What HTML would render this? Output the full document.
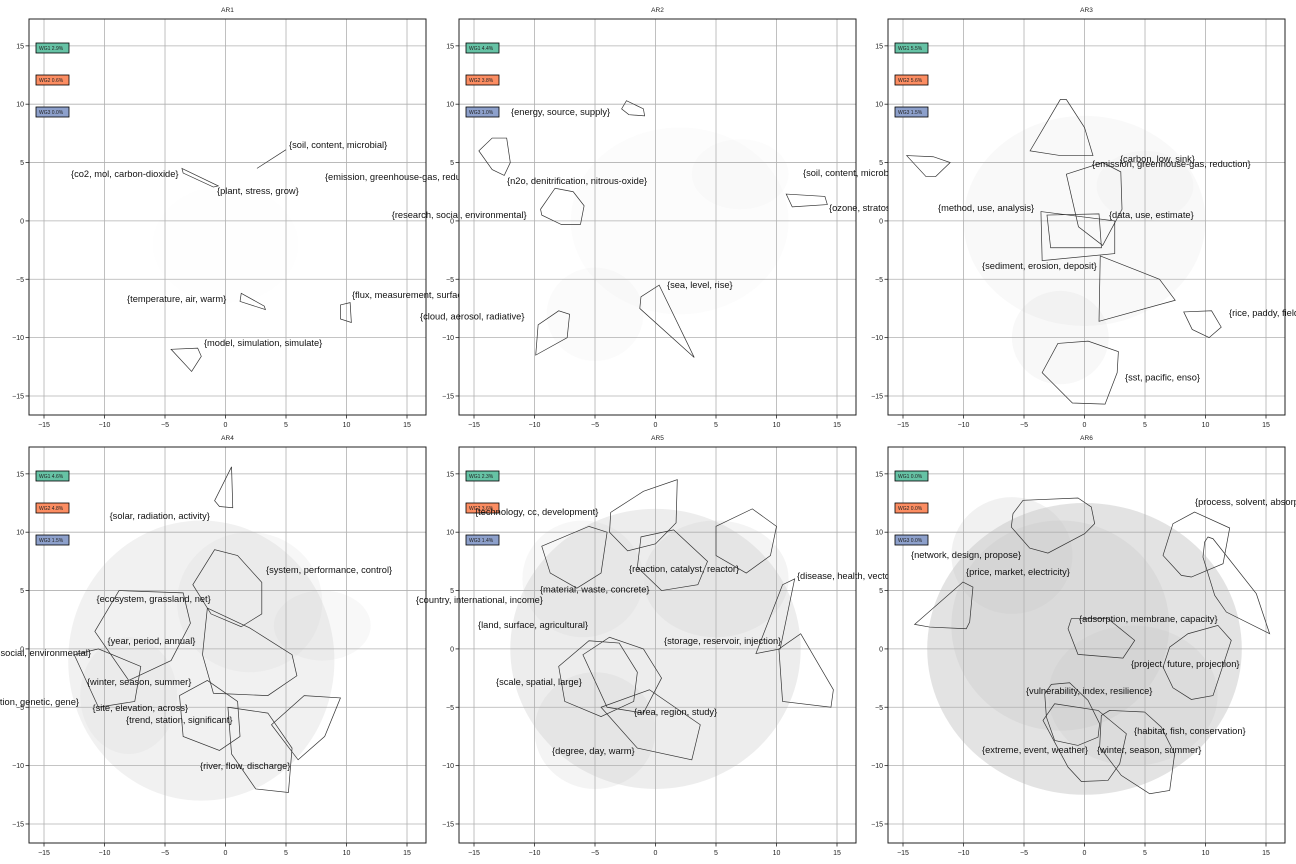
<!DOCTYPE html>
<html><head><meta charset="utf-8"><style>
html,body{margin:0;padding:0;background:#fff}
svg{display:block;font-family:"Liberation Sans","DejaVu Sans",sans-serif}
</style></head><body>
<svg id="c" width="1296" height="864" viewBox="0 0 1296 864" xmlns="http://www.w3.org/2000/svg"></svg>
<script>
const panelTitles=["AR1","AR2","AR3","AR4","AR5","AR6"];
const wg1Share=["2.9%","4.4%","5.5%","4.6%","2.3%","0.0%"];
const wg2Share=["0.6%","3.8%","5.6%","4.8%","3.6%","0.0%"];
const wg3Share=["0.0%","1.0%","1.5%","1.5%","1.4%","0.0%"];
const xTicks=[-15,-10,-5,0,5,10,15];
const yTicks=[-15,-10,-5,0,5,10,15];
// point-cloud density blobs per panel: [cx, cy, rx, ry, opacity]
const clouds=[
 [[0,-2,6,5,0.02]],
 [[2,0,9,8,0.06],[-5,-8,4,4,0.08],[7,4,4,3,0.06]],
 [[0,0,10,9,0.1],[-2,-10,4,4,0.12],[5,3,4,3,0.08]],
 [[-2,-1,11,12,0.25],[-8,-4,4,5,0.15],[2,4,6,6,0.15],[8,2,4,3,0.12]],
 [[0,0,12,12,0.33],[-5,-7,5,5,0.2],[5,6,6,5,0.2],[-6,6,5,5,0.15]],
 [[0,0,13,12.5,0.5],[-2,2,9,9,0.3],[4,-4,7,6,0.25],[-6,8,5,5,0.25]]
];
// topic labels per panel: [text, x, y, anchor]
const labels=[
 [["{soil, content, microbial}",5.25,6.5],["{co2, mol, carbon-dioxide}",-12.77,4.0],["{emission, greenhouse-gas, reduction}",8.22,3.76],["{plant, stress, grow}",-0.7,2.56],["{temperature, air, warm}",-8.14,-6.7],["{flux, measurement, surface}",10.45,-6.35],["{model, simulation, simulate}",-1.78,-10.46]],
 [["{energy, source, supply}",-11.94,9.33],["{n2o, denitrification, nitrous-oxide}",-12.27,3.42],["{research, social, environmental}",-21.8,0.5],["{soil, content, microbial}",12.19,4.1],["{ozone, stratospheric, layer}",14.34,1.1],["{sea, level, rise}",0.95,-5.5],["{cloud, aerosol, radiative}",-19.46,-8.2]],
 [["{carbon, low, sink}",2.93,5.3],["{emission, greenhouse-gas, reduction}",0.62,4.86],["{method, use, analysis}",-12.11,1.1],["{data, use, estimate}",2.02,0.5],["{sediment, erosion, deposit}",-8.47,-3.87],["{rice, paddy, field}",11.94,-7.9],["{sst, pacific, enso}",3.35,-13.4]],
 [["{solar, radiation, activity}",-9.58,11.39],["{system, performance, control}",3.35,6.76],["{ecosystem, grassland, net}",-10.66,4.28],["{year, period, annual}",-9.75,0.68],["{research, social, environmental}",-11.12,-0.35,"end"],["{winter, season, summer}",-11.45,-2.84],["{population, genetic, gene}",-12.11,-4.55,"end"],["{site, elevation, across}",-10.99,-5.06],["{trend, station, significant}",-8.22,-6.09],["{river, flow, discharge}",-2.11,-10.03]],
 [["{technology, cc, development}",-14.92,11.73],["{reaction, catalyst, reactor}",-2.19,6.85],["{disease, health, vector}",11.69,6.25],["{material, waste, concrete}",-9.55,5.11],["{country, international, income}",-19.8,4.17],["{land, surface, agricultural}",-14.67,2.03],["{storage, reservoir, injection}",0.7,0.66],["{scale, spatial, large}",-13.18,-2.84],["{area, region, study}",-1.78,-5.4],["{degree, day, warm}",-8.55,-8.75]],
 [["{process, solvent, absorption}",9.13,12.6],["{network, design, propose}",-14.34,8.05],["{price, market, electricity}",-9.79,6.6],["{adsorption, membrane, capacity}",-0.45,2.56],["{project, future, projection}",3.84,-1.3],["{vulnerability, index, resilience}",-4.84,-3.6],["{habitat, fish, conservation}",4.09,-7.04],["{extreme, event, weather}",-8.47,-8.65],["{winter, season, summer}",1.03,-8.65]]
];
// cluster hull polygons per panel (data coords)
const hulls=[
 [[[-3.6,4.5],[-0.6,3.0],[-1.0,2.9],[-3.5,4.1]],[[2.6,4.5],[5.0,6.1]],[[1.3,-6.2],[3.2,-7.3],[3.3,-7.6],[1.2,-6.9]],[[9.5,-7.2],[10.3,-7.0],[10.4,-8.7],[9.5,-8.4]],[[-4.5,-11.0],[-2.3,-10.9],[-2.0,-11.6],[-2.8,-12.9]]],
 [[[-2.8,9.6],[-2.4,10.3],[-1.0,9.6],[-0.9,9.0],[-2.2,9.1]],[[-14.6,6.0],[-13.5,7.1],[-12.3,7.1],[-12.0,5.0],[-12.5,3.9],[-13.5,4.4]],[[-9.5,1.0],[-8.3,2.8],[-6.8,2.5],[-5.9,1.3],[-6.2,-0.3],[-7.8,-0.3],[-9.4,0.5]],[[10.8,2.3],[14.0,2.1],[14.2,1.4],[11.3,1.2]],[[-1.2,-6.5],[0.3,-5.5],[3.2,-11.7],[-1.3,-7.5]],[[-9.9,-11.5],[-7.3,-10.0],[-7.1,-8.0],[-8.0,-7.7],[-9.7,-8.9]]],
 [[[-4.5,6.0],[-2.0,10.4],[-1.5,10.4],[0.0,8.0],[0.7,5.6],[-2.0,5.6]],[[-14.7,5.6],[-12.5,5.5],[-11.1,5.0],[-12.3,3.8],[-13.1,3.8]],[[-1.5,4.0],[1.5,5.0],[3.0,4.2],[3.1,1.0],[1.5,-2.1],[-0.5,-0.5]],[[-3.6,0.8],[2.5,0.0],[2.5,-2.8],[-3.5,-3.4]],[[-3.1,0.5],[1.2,0.6],[1.4,-2.3],[-2.8,-2.3]],[[1.3,-3.0],[6.2,-5.0],[7.5,-6.8],[1.2,-8.6]],[[8.2,-7.8],[10.5,-7.7],[11.3,-9.1],[10.3,-10.0],[8.9,-9.3]],[[-3.5,-13.0],[-2.2,-10.5],[0.3,-10.3],[2.8,-11.2],[2.7,-13.0],[1.7,-15.7],[-1.0,-15.6]]],
 [[[-0.9,12.7],[0.5,15.6],[0.6,12.1],[-0.5,12.2]],[[-2.7,5.5],[-0.9,8.5],[1.0,8.0],[3.0,5.7],[3.0,3.0],[1.3,1.9],[-1.2,3.0]],[[-10.8,1.5],[-8.8,5.0],[-3.5,4.8],[-2.9,2.2],[-4.5,-1.0],[-8.0,-2.7]],[[-1.5,3.5],[2.0,1.8],[5.5,-0.5],[5.9,-2.3],[3.5,-4.0],[-1.0,-3.8],[-1.9,-0.5]],[[-3.8,-4.0],[-1.5,-2.7],[1.0,-4.5],[1.2,-7.5],[-0.5,-8.7],[-3.5,-7.5]],[[0.2,-5.0],[3.5,-5.5],[5.5,-8.5],[5.2,-12.3],[2.5,-12.0],[0.5,-9.0]],[[3.8,-6.5],[6.5,-4.0],[9.5,-4.2],[8.2,-7.5],[6.0,-9.5]],[[-12.5,-0.5],[-10.5,0.0],[-7.0,-1.5],[-7.5,-4.5],[-10.5,-5.0]]],
 [[[-3.7,11.7],[-1.0,13.5],[1.8,14.5],[1.7,10.8],[0.0,9.0],[-2.3,8.4],[-3.8,10.0]],[[-9.4,8.8],[-5.5,10.5],[-4.0,10.0],[-4.5,6.5],[-6.5,5.2],[-8.7,6.5]],[[-1.2,9.6],[1.5,10.2],[4.3,7.5],[3.5,5.5],[0.5,5.0],[-1.5,7.0]],[[5.0,10.5],[8.0,12.0],[10.0,10.5],[9.5,8.0],[7.5,6.5],[5.0,8.0]],[[8.3,-0.4],[10.5,5.5],[11.5,6.0],[10.3,0.0]],[[10.2,0.0],[12.0,1.3],[14.7,-3.5],[14.5,-5.0],[10.5,-4.5]],[[-8.0,-1.5],[-5.5,0.7],[-3.0,0.5],[-1.5,-2.0],[-1.8,-4.5],[-4.5,-5.8],[-7.5,-4.5]],[[-6.0,-0.5],[-3.8,1.0],[-1.0,0.0],[0.5,-2.5],[-1.0,-5.5],[-4.0,-5.0]],[[-4.5,-5.0],[-0.5,-3.5],[3.7,-6.5],[3.0,-9.5],[-1.5,-8.5]]],
 [[[-5.08,12.73],[-0.54,12.93],[0.56,12.16],[0.84,10.73],[0.01,9.87],[-3.02,8.21],[-4.53,8.64],[-6.05,10.44],[-5.91,11.59]],[[-10.04,5.73],[-9.22,5.3],[-9.49,2.3],[-9.77,1.73],[-12.8,1.87],[-14.04,2.1]],[[9.1,11.73],[12.0,10.36],[11.45,7.3],[8.83,6.16],[8.0,6.3],[6.49,8.01],[7.31,10.73]],[[10.2,9.59],[10.62,9.44],[14.2,4.73],[15.3,1.3],[11.72,3.16],[10.76,4.59],[9.79,7.87],[9.93,9.16]],[[-1.09,2.59],[1.94,2.59],[4.15,0.73],[3.18,-0.79],[-0.54,-0.47],[-1.36,1.73]],[[11.03,2.01],[12.13,0.73],[10.62,-4.0],[8.83,-4.33],[7.31,-3.33],[6.49,-1.56],[7.04,0.16],[8.55,1.3]],[[-2.74,-3.04],[-1.23,-2.9],[0.29,-4.41],[1.25,-6.41],[1.12,-7.56],[-0.54,-8.27],[-2.47,-7.84],[-3.15,-5.84],[-3.29,-3.84]],[[-2.47,-4.7],[1.12,-5.27],[3.46,-7.27],[2.91,-9.84],[1.94,-11.27],[-0.26,-11.36],[-1.36,-10.13],[-3.43,-6.13]],[[2.08,-5.27],[4.97,-5.41],[6.35,-6.7],[7.45,-8.99],[7.04,-12.13],[5.39,-12.41],[3.04,-10.84],[1.25,-8.41],[1.39,-5.7]]]
];
const NS="http://www.w3.org/2000/svg";
const svg=document.getElementById('c');
const lefts=[29,459,888],tops=[19,447],W=397,H=396;
const XMIN=-16.24,XMAX=16.57,YMIN=-16.63,YMAX=17.3;
function mk(tag,attrs,parent){const e=document.createElementNS(NS,tag);for(const k in attrs)e.setAttribute(k,attrs[k]);(parent||svg).appendChild(e);return e;}
const wgColors=["#66c2a5","#fc8d62","#8da0cb"];
for(let p=0;p<6;p++){
 const L=lefts[p%3],T=tops[Math.floor(p/3)];
 const sx=v=>L+(v-XMIN)/(XMAX-XMIN)*W;
 const sy=v=>T+(YMAX-v)/(YMAX-YMIN)*H;
 const g=mk('g',{});
 
 
 const bg=mk('rect',{x:L,y:T,width:W,height:H,fill:'#fff'},g);
 
 
 const t=mk('text',{x:L+W/2,y:T-7,'font-size':6.5,'text-anchor':'middle',fill:'#222'},g);
 t.textContent=panelTitles[p];
 
 
 const cid='clip'+p;
 const cp=mk('clipPath',{id:cid},g);mk('rect',{x:L,y:T,width:W,height:H},cp);
 const inner=mk('g',{'clip-path':'url(#'+cid+')'},g);
 clouds[p].forEach(c=>{
  const e=mk('ellipse',{cx:sx(c[0]),cy:sy(c[1]),rx:c[2]*W/(XMAX-XMIN),ry:c[3]*H/(YMAX-YMIN),fill:'#c8c8c8','fill-opacity':c[4]},inner);
  
  
 });
 xTicks.forEach(v=>{
  mk('line',{x1:sx(v),x2:sx(v),y1:T,y2:T+H,stroke:'#b0b0b0','stroke-width':0.8},inner);
  mk('line',{x1:sx(v),x2:sx(v),y1:T+H,y2:T+H+3.5,stroke:'#222','stroke-width':0.8},g);
  const tl=mk('text',{x:sx(v),y:T+H+12,'font-size':7,'text-anchor':'middle',fill:'#222'},g);
  tl.textContent=v<0?'\u2212'+(-v):String(v);
  
  
 });
 yTicks.forEach(v=>{
  mk('line',{x1:L,x2:L+W,y1:sy(v),y2:sy(v),stroke:'#b0b0b0','stroke-width':0.8},inner);
  mk('line',{x1:L-3.5,x2:L,y1:sy(v),y2:sy(v),stroke:'#222','stroke-width':0.8},g);
  const tl=mk('text',{x:L-5,y:sy(v)+2.5,'font-size':7,'text-anchor':'end',fill:'#222'},g);
  tl.textContent=v<0?'\u2212'+(-v):String(v);
  
  
 });
 hulls[p].forEach(h=>{
  const pts=h.map(q=>sx(q[0])+','+sy(q[1])).join(' ');
  const e=mk(h.length>2?'polygon':'polyline',{points:pts,fill:'none',stroke:'#333','stroke-width':0.7},inner);
  
  
 });
 mk('rect',{x:L,y:T,width:W,height:H,fill:'none',stroke:'#222','stroke-width':1},g);
 const shares=[wg1Share[p],wg2Share[p],wg3Share[p]];
 shares.forEach((s,i)=>{
  const by=T+24+i*32;
  const r=mk('rect',{x:L+7,y:by,width:33,height:10,fill:wgColors[i],stroke:'#000','stroke-width':0.8},g);
  
  
  const tx=mk('text',{x:L+10,y:by+7,'font-size':5,fill:'#222'},g);
  tx.textContent='WG'+(i+1)+' '+s;
  
  
 });
 labels[p].forEach(lb=>{
  const tx=mk('text',{x:sx(lb[1]),y:sy(lb[2])+3,'font-size':9.3,fill:'#111','text-anchor':lb[3]==='end'?'end':'start'},g);
  tx.textContent=lb[0];
  
  
 });
}
</script>
</body></html>
